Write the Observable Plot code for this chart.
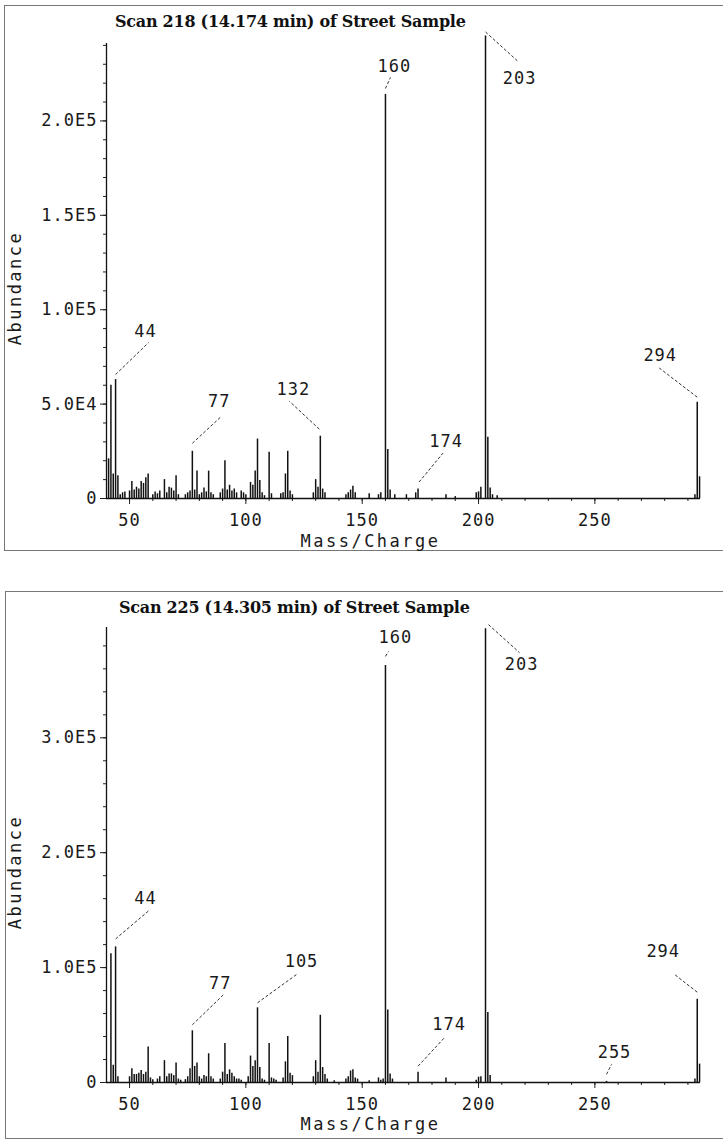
<!DOCTYPE html>
<html><head><meta charset="utf-8">
<script src="https://cdn.jsdelivr.net/npm/d3@7"></script>
<script src="https://cdn.jsdelivr.net/npm/@observablehq/plot@0.6"></script>
<style>
html,body{margin:0;padding:0;background:#fff;}
body{width:723px;height:1140px;position:relative;overflow:hidden;}
.panel{position:absolute;left:0;width:723px;}
.frame{position:absolute;border-top:1px solid #777;border-left:1px solid #777;border-bottom:1px solid #777;}
.title{position:absolute;font-family:"DejaVu Serif",serif;font-weight:bold;font-size:16px;letter-spacing:-0.25px;white-space:nowrap;color:#111;line-height:1;}
.panel svg{position:absolute;left:0;top:0;}
</style></head><body>
<div id="p1" class="panel" style="top:0;height:560px"></div>
<div id="p2" class="panel" style="top:570px;height:570px"></div>
<script>
// ---- data ----
const titleTop = "Scan 218 (14.174 min) of Street Sample";
const titleBot = "Scan 225 (14.305 min) of Street Sample";
const xLabel = "Mass/Charge";
const yLabel = "Abundance";
const xDomain = [40.1, 295.4];
const xTicks = [50, 100, 150, 200, 250];
const xMinorTicks = [50, 60, 70, 80, 90, 100, 110, 120, 130, 140, 150, 160, 170, 180, 190, 200, 210, 220, 230, 240, 250, 260, 270, 280, 290];
const yTicksTop = [0, 50000, 100000, 150000, 200000];
const yMinorTop = d3.range(0, 241000, 10000);
const yTicksBot = [0, 100000, 200000, 300000];
const yMinorBot = d3.range(0, 396000, 20000);

// [m/z, abundance]
const scan218 = [
[41,21000],[42,60000],[43,13000],[44,63000],[45,12000],[46,2000],[47,3000],[48,3500],
[50,4000],[51,9000],[52,4500],[53,6000],[54,5000],[55,9000],[56,8000],[57,11000],[58,13000],
[60,2000],[61,3500],[62,2500],[63,4000],[65,10000],[66,3000],[67,6000],[68,5500],[69,4000],[70,12000],[71,2000],
[74,2000],[75,3000],[76,4000],[77,25000],[78,4500],[79,14500],[80,2000],[81,3000],[82,5500],[83,3500],[84,14500],[85,3000],[86,2000],
[89,3000],[90,5000],[91,20000],[92,4500],[93,7000],[94,4000],[95,5000],[96,3000],[98,4000],[99,3000],[100,2000],
[102,8500],[103,7000],[104,14500],[105,31500],[106,9500],[107,3000],[108,1500],[110,24500],[111,2500],
[115,2500],[116,3000],[117,13000],[118,25000],[119,4000],[120,2000],
[129,3000],[130,10000],[131,6000],[132,33000],[133,5000],[134,3000],
[143,2000],[144,3000],[145,4500],[146,6500],[147,3000],[153,2500],[157,2000],[158,3000],
[160,214000],[161,26000],[162,4500],[164,2000],[169,2000],[173,3000],[174,5000],[186,2000],[190,1000],
[199,3000],[200,3500],[201,6000],[203,245000],[204,32500],[205,5500],[206,2000],[208,1500],
[293,2000],[294,51000],[295,11500]
];
const scan225 = [
[42,112000],[43,15000],[44,118000],[45,5000],
[50,5000],[51,12000],[52,7000],[53,7000],[54,8000],[55,10500],[56,7000],[57,9000],[58,31000],[59,4000],[60,2500],
[62,3000],[63,5000],[65,19000],[66,5000],[67,7500],[68,7500],[69,6000],[70,17000],[71,3000],[72,2000],
[74,2500],[75,5000],[76,12000],[77,45000],[78,14000],[79,17000],[80,5000],[81,3000],[82,6000],[83,5000],[84,25000],[85,5000],[86,3000],
[89,3000],[90,9000],[91,34000],[92,7000],[93,11000],[94,8000],[95,5000],[96,3000],[97,3000],[98,2000],
[101,5000],[102,23000],[103,14000],[104,19000],[105,65000],[106,13000],[107,3000],[108,2000],
[110,34000],[111,4000],[112,3000],[113,2000],[116,4000],[117,18000],[118,40000],[119,8000],[120,6000],
[129,5000],[130,19000],[131,9000],[132,58500],[133,13000],[134,7000],[135,3000],[138,1500],
[143,3000],[144,5000],[145,10000],[146,11000],[147,4000],[148,3000],[153,1500],[157,4000],[158,2000],[159,3000],
[160,363000],[161,63000],[162,7500],[163,3000],[174,9000],[186,4000],
[199,2000],[200,4600],[201,5000],[203,395000],[204,61000],[205,6000],[255,1000],
[293,3000],[294,72500],[295,16000]
];
const labelsTop = [44, 77, 132, 160, 174, 203, 294];
const labelsBot = [44, 77, 105, 160, 174, 203, 255, 294];

// ---- annotation layout (pixel offsets from peak top: leader start, leader end, label centre) ----
const offsetsTop = [
[0,-5, 33,-37, 30,-48], [0,-8, 28,-34, 27,-50], [-1,-7, -31,-35, -27,-47],
[0,-6, 5,-17, 9,-28], [1,-7, 25,-36, 28,-48], [0,-4, 32,25, 34,43], [0,-5, -39,-35, -37,-47]
];
const offsetsBot = [
[0,-8, 33,-36, 30,-48], [0,-6, 31,-36, 28,-47], [0,-5, 40,-34, 44,-46],
[0,-9, 3,-14, 10,-28], [0,-6, 26,-34, 31,-48], [3,-4, 34,24, 36,36],
[0,-7, 5,-17, 8,-29], [0,-7, -23,-25, -34,-48]
];

const MONO = "DejaVu Sans Mono";
const yFmt = d => d === 0 ? "0" : d.toExponential(1).toUpperCase().replace("+", "");

function panel(el, o) {
  const W = 723, ML = 106, MR = 23;
  const frame = document.createElement("div");
  frame.className = "frame";
  Object.assign(frame.style, o.frame);
  el.appendChild(frame);
  const t = document.createElement("div");
  t.className = "title";
  t.textContent = o.title;
  Object.assign(t.style, o.titlePos);
  el.appendChild(t);

  const xs = Plot.scale({x: {domain: xDomain, range: [ML, W - MR]}});
  const ys = Plot.scale({y: {domain: o.yDomain, range: [o.height - o.marginBottom, o.marginTop]}});
  const valueOf = new Map(o.data);
  const ann = o.labels.map((mz, i) => {
    const [sx, sy, ex, ey, lx, ly] = o.offsets[i];
    const px = xs.apply(mz), py = ys.apply(valueOf.get(mz));
    return {label: String(mz),
      x1: xs.invert(px + sx), y1: ys.invert(py + sy),
      x2: xs.invert(px + ex), y2: ys.invert(py + ey),
      lx: xs.invert(px + lx), ly: ys.invert(py + ly)};
  });

  const svg = Plot.plot({
    width: W, height: o.height,
    marginLeft: ML, marginRight: MR, marginTop: o.marginTop, marginBottom: o.marginBottom,
    style: {background: "transparent", overflow: "visible", fontFamily: MONO, color: "#1a1a1a", letterSpacing: "1px"},
    x: {domain: xDomain},
    y: {domain: o.yDomain},
    marks: [
      Plot.axisX(xMinorTicks, {tickSize: 3, tickFormat: () => "", stroke: "#222"}),
      Plot.axisX(xTicks, {tickSize: 6, tickPadding: o.xPad, fontSize: 17, fontFamily: MONO, label: null, stroke: "#222"}),
      Plot.axisY(o.yMinor, {tickSize: 3, tickFormat: () => "", stroke: "#222"}),
      Plot.axisY(o.yTicks, {tickSize: 6, tickPadding: 3, fontSize: 17, fontFamily: MONO, tickFormat: yFmt, label: null, stroke: "#222"}),
      Plot.ruleY([0], {stroke: "#111", strokeWidth: 1.3}),
      Plot.ruleX(xDomain.slice(0, 1), {stroke: "#111", strokeWidth: 1.3}),
      Plot.ruleX(o.data, {x: d => d[0], y: d => d[1], stroke: "#111", strokeWidth: 1.5}),
      Plot.link(ann, {x1: "x1", y1: "y1", x2: "x2", y2: "y2", stroke: "#333", strokeWidth: 1, strokeDasharray: "3,2"}),
      Plot.text(ann, {x: "lx", y: "ly", text: "label", fontSize: 17, fontFamily: MONO, fill: "#1a1a1a"}),
      Plot.text([yLabel], {text: d => d, frameAnchor: "left", textAnchor: "middle", lineAnchor: "middle", rotate: -90, dx: -91, dy: 17, fontSize: 17, fontFamily: MONO, fill: "#1a1a1a"}),
      Plot.text([xLabel], {text: d => d, frameAnchor: "bottom", textAnchor: "middle", lineAnchor: "middle", dx: -33, dy: o.xLabelDy, fontSize: 17, fontFamily: MONO, fill: "#1a1a1a"})
    ]
  });
  svg.querySelectorAll("text").forEach(n => { if (n.textContent === yLabel || n.textContent === xLabel) n.style.letterSpacing = "2.5px"; });
  el.appendChild(svg);
}

panel(document.getElementById("p1"), {
  title: titleTop, titlePos: {left: "115px", top: "14px"},
  frame: {left: "4px", top: "5px", width: "719px", height: "544px"},
  data: scan218, labels: labelsTop, offsets: offsetsTop,
  yDomain: [0, 241000], yTicks: yTicksTop, yMinor: yMinorTop,
  height: 560, marginTop: 43, marginBottom: 62, xPad: 9, xLabelDy: 43
});
panel(document.getElementById("p2"), {
  title: titleBot, titlePos: {left: "119px", top: "30px"},
  frame: {left: "5px", top: "21px", width: "718px", height: "546px"},
  data: scan225, labels: labelsBot, offsets: offsetsBot,
  yDomain: [0, 396000], yTicks: yTicksBot, yMinor: yMinorBot,
  height: 570, marginTop: 57, marginBottom: 58, xPad: 9, xLabelDy: 42
});
</script></body></html>
